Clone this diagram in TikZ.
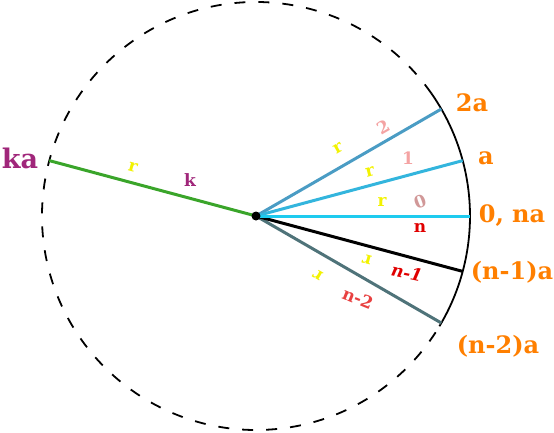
\documentclass[tikz,border=0pt]{standalone}
\usepackage{fontspec}
\setmainfont{DejaVu Serif}
\definecolor{tagorange}{HTML}{FF7F00}
\definecolor{tagpurple}{HTML}{A0267A}
\definecolor{tagyellow}{HTML}{F2F200}
\definecolor{tagpink}{HTML}{F4A3A3}
\definecolor{tagred}{HTML}{E00000}
\definecolor{spokeA}{HTML}{4A9CC4}
\definecolor{spokeB}{HTML}{33B5DD}
\definecolor{spokeC}{HTML}{1ECBEF}
\definecolor{spokeD}{HTML}{4F7379}
\definecolor{spokeK}{HTML}{3AA52A}

\begin{document}
\begin{tikzpicture}[x=1pt,y=1pt]
    \tikzset{spoke/.style = {line width=3pt}}
    \tikzset{rim/.style = {line width=1.8pt}}
    \tikzset{endtag/.style = {font=\fontsize{24}{24}\selectfont\bfseries, text=tagorange, inner sep=0}}
    \tikzset{small/.style = {font=\fontsize{17}{17}\selectfont\bfseries, inner sep=0}}
    \useasboundingbox (-256,-216) rectangle (298,216);

    % circle
    \draw[rim, dash pattern=on 11pt off 13pt] (35:214) arc (35:329:214);
    \draw[rim] (-31:214) arc (-31:35:214);

    % points
    \coordinate (o) at (0,0);
    \coordinate (p2) at (30:214);
    \coordinate (p1) at (15:214);
    \coordinate (p0) at (0:214);
    \coordinate (pn1) at (-15:214);
    \coordinate (pn2) at (-30:214);
    \coordinate (pk) at (165:214);

    % spokes
    \draw[spoke, spokeK] (o) -- (pk);
    \draw[spoke, spokeD] (o) -- (pn2);
    \draw[spoke, black] (o) -- (pn1);
    \draw[spoke, spokeA] (o) -- (p2);
    \draw[spoke, spokeB] (o) -- (p1);
    \draw[spoke, spokeC] (o) -- (p0);
    \node[circle, fill, inner sep=0, minimum size=9pt] (dot) at (o) {};

    % end labels
    \node[endtag] (t2) at (216,113) {2a};
    \node[endtag] (t1) at (230,58) {a};
    \node[endtag] (t0) at (256,0) {0, na};
    \node[endtag] (tn1) at (256,-56) {(n-1)a};
    \node[endtag] (tn2) at (242,-130) {(n-2)a};
    \node[endtag, text=tagpurple, font=\fontsize{27}{27}\selectfont\bfseries] (tk) at (-236,58) {ka};

    % spoke labels
    \node[small, text=tagyellow, rotate=30] (r2) at (82,68) {r};
    \node[small, text=tagpink, rotate=30] (n2) at (127,89) {2};
    \node[small, text=tagyellow, rotate=15] (r1) at (114,44) {r};
    \node[small, text=tagpink] (n1) at (152,58) {1};
    \node[small, text=tagyellow] (r0) at (126,14) {r};
    \node[small, text=tagpink!70!gray, rotate=20] (n0) at (164,14) {0};
    \node[small, text=tagred] (nn) at (164,-12) {n};
    \node[small, text=tagyellow, rotate=165] (rn1) at (111,-44) {r};
    \node[small, text=tagred, rotate=-12] (nn1) at (151,-57) {\itshape n-1};
    \node[small, text=tagyellow, rotate=150] (rn2) at (62,-59) {r};
    \node[small, text=tagred!75!white, rotate=-22] (nn2) at (102,-82) {n-2};
    \node[small, text=tagyellow, rotate=-15] (rk) at (-123,49) {r};
    \node[small, text=tagpurple] (kk) at (-66,36) {k};
\end{tikzpicture}
\end{document}
